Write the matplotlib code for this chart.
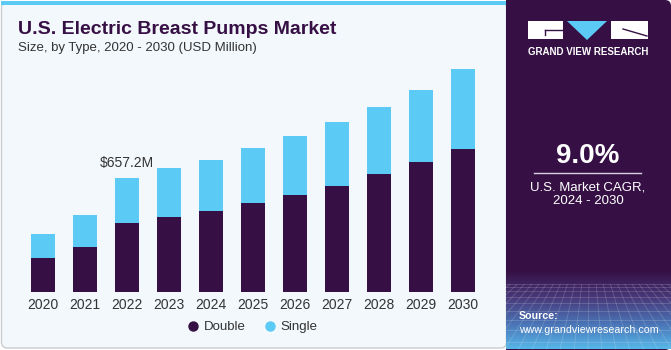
import matplotlib.pyplot as plt
import numpy as np
from matplotlib.patches import FancyBboxPatch, Rectangle, Polygon
from matplotlib.lines import Line2D
from matplotlib.colors import LinearSegmentedColormap

# values (USD Million)
years = ['2020', '2021', '2022', '2023', '2024', '2025',
         '2026', '2027', '2028', '2029', '2030']
double = [196, 259, 398, 432, 467, 513, 559, 611, 680, 749, 824]
single = [138, 185, 259, 283, 294, 317, 340, 369, 387, 416, 462]

DARK = '#361045'
BLUE = '#5BCBF5'

plt.rcParams['font.family'] = ['Liberation Sans', 'DejaVu Sans']

fig = plt.figure(figsize=(6.71, 3.5), dpi=100)
fig.patch.set_facecolor('white')

# background layer in pixel coordinates
bg = fig.add_axes([0, 0, 1, 1])
bg.set_xlim(0, 671)
bg.set_ylim(350, 0)
bg.axis('off')

bg.add_patch(FancyBboxPatch((1.5, 2), 505, 346, boxstyle='round,pad=0,rounding_size=6',
                            fc='#F3F8FC', ec='#C9CCCF', lw=1))
bg.add_patch(Rectangle((1, 0.5), 505, 4.5, fc=BLUE, ec='none'))

# right panel
bg.add_patch(FancyBboxPatch((506, 0), 165, 350, boxstyle='round,pad=0,rounding_size=6',
                            fc=DARK, ec='none'))
bg.add_patch(Rectangle((506, 0), 12, 350, fc=DARK, ec='none'))
cmap = LinearSegmentedColormap.from_list('g', ['#371247', '#48397a', '#4a72b4', '#56b6e8'])
grad = np.linspace(0, 1, 120)[:, None]
bg.imshow(grad, extent=[506, 671, 349, 272], aspect='auto', cmap=cmap, zorder=2)

# faint perspective grid at the bottom of the panel
vx, vy = 590, 215
for xb in np.arange(420, 780, 14):
    y0, y1 = 284, 349
    x0 = vx + (xb - vx) * (y0 - vy) / (350 - vy)
    x1 = vx + (xb - vx) * (y1 - vy) / (350 - vy)
    bg.plot([x0, x1], [y0, y1], color='white', alpha=0.18, lw=0.6, zorder=3)
yy = 284
step = 3
while yy < 350:
    bg.plot([506, 671], [yy, yy], color='white', alpha=0.18, lw=0.6, zorder=3)
    yy += step
    step += 1.2
for ln in bg.lines:
    ln.set_clip_path(Rectangle((506, 284), 165, 66, transform=bg.transData))

# logo
bg.add_patch(Rectangle((528, 21), 35, 18, fc='white', ec='none', zorder=4))
bg.plot([545, 563], [30, 30], color=DARK, lw=1, zorder=5)
bg.plot([545, 545], [30, 35], color=DARK, lw=1, zorder=5)
bg.add_patch(Polygon([(567, 21), (607, 21), (587, 40)], closed=True, fc=BLUE, ec='none', zorder=4))
bg.add_patch(Rectangle((611, 21), 37, 18, fc='white', ec='none', zorder=4))
bg.plot([623, 647], [29, 36], color=DARK, lw=1, zorder=5)
bg.text(588, 52, 'GRAND VIEW RESEARCH', color='white', fontsize=7, fontweight='bold',
        ha='center', va='center', zorder=5)

bg.text(588, 156, '9.0%', color='white', fontsize=20, fontweight='bold',
        ha='center', va='center', zorder=5)
bg.plot([534, 641], [173, 173], color='#d8d0de', lw=1, zorder=5)
bg.text(588, 188, 'U.S. Market CAGR,', color='white', fontsize=9.5,
        ha='center', va='center', zorder=5)
bg.text(588, 201, '2024 - 2030', color='white', fontsize=9.5,
        ha='center', va='center', zorder=5)
bg.text(519, 316, 'Source:', color='white', fontsize=7.7, fontweight='bold',
        ha='left', va='center', zorder=5)
bg.text(519, 330, 'www.grandviewresearch.com', color='white', fontsize=7.7,
        ha='left', va='center', zorder=5)

# titles
bg.text(18, 30, 'U.S. Electric Breast Pumps Market', color=DARK, fontsize=14,
        fontweight='bold', ha='left', va='center')
bg.text(18, 48, 'Size, by Type, 2020 - 2030 (USD Million)', color='#333333',
        fontsize=9.5, ha='left', va='center')

# main chart
ax = fig.add_axes([22 / 671, 58 / 350, 462 / 671, 232 / 350])
ax.patch.set_alpha(0)
x = np.arange(len(years))
total = [d + s for d, s in zip(double, single)]
ax.bar(x, double, 0.58, color=DARK, label='Double')
ax.bar(x, single, 0.58, bottom=double, color=BLUE, label='Single')
ax.set_xlim(-0.5, len(years) - 0.5)
ax.set_ylim(0, 1340)
ax.set_xticks(x)
ax.set_xticklabels(years)
ax.set_yticks([])
for s in ax.spines.values():
    s.set_visible(False)
ax.tick_params(axis='x', length=0, pad=4, labelsize=10, labelcolor='#333333')

ax.annotate(r'\$657.2M', xy=(2, total[2]), xytext=(0, 11), textcoords='offset points',
            ha='center', va='center', fontsize=10, color='#333333')

handles = [Line2D([], [], marker='o', ls='', color=DARK, markersize=6.5, label='Double'),
           Line2D([], [], marker='o', ls='', color=BLUE, markersize=6.5, label='Single')]
fig.legend(handles=handles, loc='center', bbox_to_anchor=(252 / 671, 1 - 327 / 350),
           ncol=2, frameon=False, fontsize=9.5, handlelength=1.0, handletextpad=0.3,
           columnspacing=1.3, labelcolor='#333333')

fig.savefig('out.png', dpi=100)
